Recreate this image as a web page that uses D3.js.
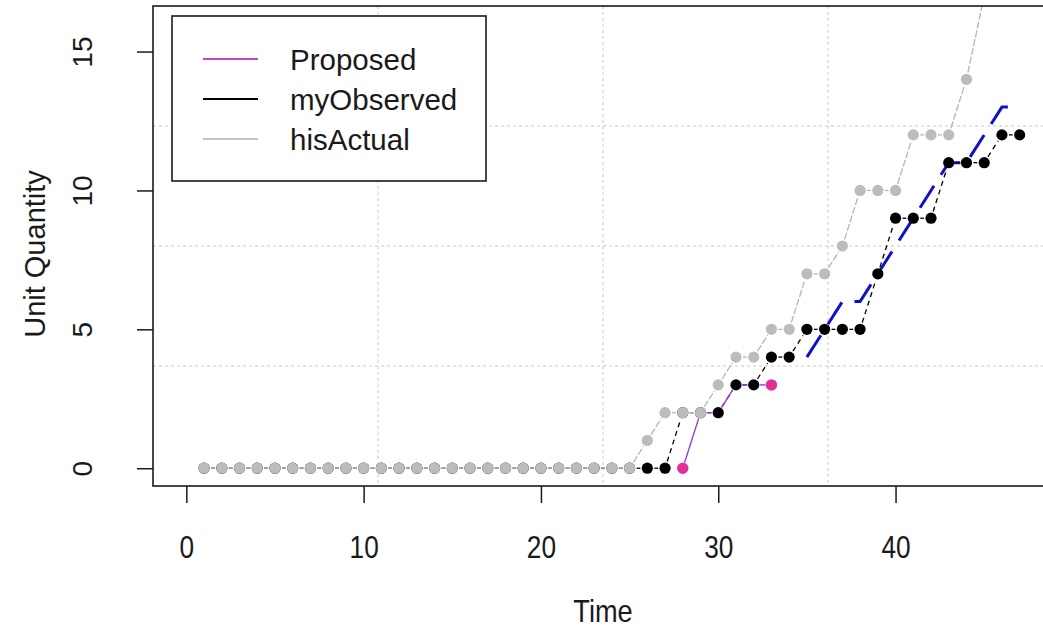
<!DOCTYPE html>
<html>
<head>
<meta charset="utf-8">
<script src="https://cdn.jsdelivr.net/npm/d3@7"></script>
<style>
  body { margin: 0; background: #fff; }
  text { font-family: "Liberation Sans", Arial, sans-serif; fill: #1a1a1a; }
</style>
</head>
<body>
<script>
const width = 1043, height = 627;
const plot = { left: 153, right: 1053, top: 6, bottom: 486 };

// data
const timeAll = [1,2,3,4,5,6,7,8,9,10,11,12,13,14,15,16,17,18,19,20,21,22,23,24,25,26,27,28,29,30,
                 31,32,33,34,35,36,37,38,39,40,41,42,43,44,45,46,47];
const hisActual = [0,0,0,0,0,0,0,0,0,0,0,0,0,0,0,0,0,0,0,0,0,0,0,0,0,
                   1,2,2,2,3,4,4,5,5,7,7,8,10,10,10,12,12,12,14,17];
const myObserved = [0,0,0,0,0,0,0,0,0,0,0,0,0,0,0,0,0,0,0,0,0,0,0,0,0,0,0,
                    2,2,2,3,3,4,4,5,5,5,5,7,9,9,9,11,11,11,12,12];
const proposedTime = [28,29,30,31,32,33];
const proposed = [0,2,2,3,3,3];
const forecastTime = [35,36,37,38,39,40,41,42,43,44,45,46,47];
const forecast = [4,5,6,6,7,8,9,10,11,11,12,13,13];

const xTicks = [0,10,20,30,40];
const yTicks = [0,5,10,15];
const legendNames = ['Proposed','myObserved','hisActual'];
const legendColors = ['#cc44cc','#000000','#c4c4c4'];

const svg = d3.select('body').append('svg')
    .attr('width', width)
    .attr('height', height);

// R-style 4% padding on xlim c(0,47), ylim c(0,16)
const x = d3.scaleLinear().domain([-1.88, 48.88]).range([plot.left, plot.right]);
const y = d3.scaleLinear().domain([-0.64, 16.64]).range([plot.bottom, plot.top]);

svg.append('clipPath').attr('id', 'clip')
    .append('rect')
    .attr('x', plot.left).attr('y', plot.top)
    .attr('width', plot.right - plot.left).attr('height', plot.bottom - plot.top);

const g = svg.append('g').attr('clip-path', 'url(#clip)');

// grid: plot region split into 4 parts
const xd = x.domain(), yd = y.domain();
const gridX = [1,2,3].map(k => xd[0] + (xd[1] - xd[0]) * k / 4);
const gridY = [1,2,3].map(k => yd[0] + (yd[1] - yd[0]) * k / 4);

g.selectAll('line.gx').data(gridX).enter().append('line')
    .attr('x1', d => x(d)).attr('x2', d => x(d))
    .attr('y1', plot.top).attr('y2', plot.bottom)
    .attr('stroke', '#c8c8c8').attr('stroke-dasharray', '3,3');
g.selectAll('line.gy').data(gridY).enter().append('line')
    .attr('y1', d => y(d)).attr('y2', d => y(d))
    .attr('x1', plot.left).attr('x2', plot.right)
    .attr('stroke', '#c8c8c8').attr('stroke-dasharray', '3,3');

// lines broken around the points, like type = "b"
function gappedSegments(ts, vs, gap) {
    const segs = [];
    for (let i = 0; i < vs.length - 1; i++) {
        const x1 = x(ts[i]), y1 = y(vs[i]), x2 = x(ts[i+1]), y2 = y(vs[i+1]);
        const len = Math.hypot(x2 - x1, y2 - y1);
        if (len <= 2 * gap) continue;
        const ux = (x2 - x1) / len, uy = (y2 - y1) / len;
        segs.push([x1 + ux*gap, y1 + uy*gap, x2 - ux*gap, y2 - uy*gap]);
    }
    return segs;
}

function drawSegments(cls, segs, color, w, dash) {
    g.selectAll('line.' + cls).data(segs).enter().append('line')
        .attr('class', cls)
        .attr('x1', d => d[0]).attr('y1', d => d[1])
        .attr('x2', d => d[2]).attr('y2', d => d[3])
        .attr('stroke', color).attr('stroke-width', w)
        .attr('stroke-dasharray', dash);
}

// forecast (blue long dash)
g.append('path')
    .datum(forecast)
    .attr('fill', 'none')
    .attr('stroke', '#1010c8')
    .attr('stroke-width', 3)
    .attr('stroke-dasharray', '26,13')
    .attr('d', d3.line().x((d, i) => x(forecastTime[i])).y(d => y(d)));

// myObserved
drawSegments('obs', gappedSegments(timeAll, myObserved, 7), '#000', 1.3, '5,4');
g.selectAll('circle.obs').data(myObserved).enter().append('circle')
    .attr('cx', (d, i) => x(timeAll[i])).attr('cy', d => y(d))
    .attr('r', 5.6).attr('fill', '#000');

// hisActual
drawSegments('act', gappedSegments(timeAll, hisActual, 7), '#b4b4b4', 1.3, '7,2');
g.selectAll('circle.act').data(hisActual).enter().append('circle')
    .attr('cx', (d, i) => x(timeAll[i])).attr('cy', d => y(d))
    .attr('r', 5.6).attr('fill', '#bcbcbc');

// Proposed
drawSegments('prop', gappedSegments(proposedTime, proposed, 6), '#9a3fd0', 1.4, null);
const propEnds = [0, proposed.length - 1];
g.selectAll('circle.prop').data(propEnds).enter().append('circle')
    .attr('cx', i => x(proposedTime[i])).attr('cy', i => y(proposed[i]))
    .attr('r', 5).attr('fill', '#e8307c').attr('stroke', '#cc33cc').attr('stroke-width', 1.5);

// box
svg.append('rect')
    .attr('x', plot.left).attr('y', plot.top)
    .attr('width', plot.right - plot.left).attr('height', plot.bottom - plot.top)
    .attr('fill', 'none').attr('stroke', '#1a1a1a').attr('stroke-width', 1.6);

// axes
const xAxis = d3.axisBottom(x).tickValues(xTicks).tickSize(17).tickPadding(8).tickFormat(d3.format('d'));
const gx = svg.append('g').attr('class', 'x-axis')
    .attr('transform', 'translate(0,' + plot.bottom + ')')
    .call(xAxis);
gx.select('.domain').remove();
gx.selectAll('line').attr('stroke', '#1a1a1a').attr('stroke-width', 1.5);
gx.selectAll('text')
    .attr('y', 72).attr('dy', null)
    .attr('font-size', 32)
    .attr('transform', 'scale(0.82,1)');

const yAxis = d3.axisLeft(y).tickValues(yTicks).tickSize(16).tickFormat(d3.format('d'));
const gy = svg.append('g').attr('class', 'y-axis')
    .attr('transform', 'translate(' + plot.left + ',0)')
    .call(yAxis);
gy.select('.domain').remove();
gy.selectAll('line').attr('stroke', '#1a1a1a').attr('stroke-width', 1.5);
gy.selectAll('text')
    .attr('x', 0).attr('dy', null)
    .attr('text-anchor', 'middle')
    .attr('font-size', 28)
    .attr('transform', 'translate(-61,0) rotate(-90)');

// axis titles
svg.append('text')
    .attr('x', (plot.left + plot.right) / 2).attr('y', 622)
    .attr('text-anchor', 'middle')
    .attr('font-size', 32)
    .attr('transform', 'translate(' + ((plot.left + plot.right) / 2) * 0.15 + ',0) scale(0.85,1)')
    .text('Time');

svg.append('text')
    .attr('transform', 'translate(45,' + ((plot.top + plot.bottom) / 2 + 8) + ') rotate(-90)')
    .attr('text-anchor', 'middle')
    .attr('font-size', 29)
    .text('Unit Quantity');

// legend
const legend = svg.append('g').attr('class', 'legend');
legend.append('rect')
    .attr('x', 172).attr('y', 16).attr('width', 314).attr('height', 165)
    .attr('fill', '#fff').attr('stroke', '#1a1a1a').attr('stroke-width', 1.6);
const rows = legend.selectAll('g.row').data(legendNames).enter().append('g')
    .attr('transform', (d, i) => 'translate(0,' + (59 + i * 40) + ')');
rows.append('line')
    .attr('x1', 203).attr('x2', 258)
    .attr('stroke', (d, i) => legendColors[i]).attr('stroke-width', 2);
rows.append('text')
    .attr('x', 290).attr('dy', '0.36em')
    .attr('font-size', 29.5)
    .text(d => d);
</script>
</body>
</html>
